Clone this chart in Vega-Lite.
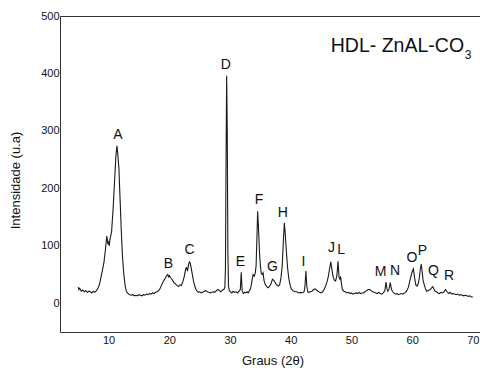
{
  "$schema": "https://vega.github.io/schema/vega-lite/v6.json",
  "width": 425,
  "height": 316,
  "autosize": {"type": "none"},
  "padding": {"left": 60, "top": 16, "right": 0, "bottom": 36},
  "background": "white",
  "config": {
    "view": {"stroke": "#333", "strokeWidth": 1},
    "font": "Liberation Sans",
    "axis": {"grid": false, "ticks": false, "domain": false, "labelFont": "Liberation Sans", "labelFontSize": 11, "labelColor": "#111", "titleFont": "Liberation Sans", "titleFontSize": 13, "titleFontWeight": "normal", "titleColor": "#111"}
  },
  "datasets": {
    "xrd": [
      {"t":5.0,"i":28},{"t":5.1,"i":24},{"t":5.25,"i":26},{"t":5.5,"i":21},{"t":5.75,"i":23},{"t":6.0,"i":20},{"t":6.25,"i":22},{"t":6.5,"i":19},{"t":6.75,"i":21},{"t":7.0,"i":20},{"t":7.25,"i":18},{"t":7.5,"i":21},{"t":7.75,"i":19},{"t":8.0,"i":22},{"t":8.25,"i":26},{"t":8.5,"i":33},{"t":8.75,"i":45},{"t":9.0,"i":58},{"t":9.25,"i":72},{"t":9.5,"i":95},{"t":9.7,"i":117},{"t":9.8,"i":110},{"t":9.9,"i":103},{"t":10.0,"i":106},{"t":10.1,"i":100},{"t":10.25,"i":112},{"t":10.5,"i":125},{"t":10.75,"i":165},{"t":11.0,"i":215},{"t":11.2,"i":255},{"t":11.37,"i":274},{"t":11.5,"i":262},{"t":11.7,"i":235},{"t":11.9,"i":180},{"t":12.1,"i":125},{"t":12.3,"i":80},{"t":12.5,"i":52},{"t":12.7,"i":33},{"t":12.9,"i":22},{"t":13.1,"i":18},{"t":13.3,"i":16},{"t":13.5,"i":15},{"t":13.75,"i":14},{"t":14.0,"i":15},{"t":14.25,"i":13},{"t":14.5,"i":14},{"t":14.75,"i":13},{"t":15.0,"i":15},{"t":15.25,"i":14},{"t":15.5,"i":13},{"t":15.75,"i":15},{"t":16.0,"i":14},{"t":16.25,"i":16},{"t":16.5,"i":15},{"t":16.75,"i":17},{"t":17.0,"i":16},{"t":17.25,"i":18},{"t":17.5,"i":17},{"t":17.75,"i":19},{"t":18.0,"i":20},{"t":18.25,"i":22},{"t":18.5,"i":26},{"t":18.75,"i":32},{"t":19.0,"i":38},{"t":19.25,"i":42},{"t":19.5,"i":47},{"t":19.75,"i":50},{"t":19.9,"i":46},{"t":20.0,"i":48},{"t":20.25,"i":44},{"t":20.5,"i":41},{"t":20.75,"i":36},{"t":21.0,"i":34},{"t":21.25,"i":31},{"t":21.5,"i":29},{"t":21.75,"i":32},{"t":22.0,"i":31},{"t":22.25,"i":38},{"t":22.5,"i":48},{"t":22.7,"i":60},{"t":22.85,"i":62},{"t":23.0,"i":56},{"t":23.15,"i":66},{"t":23.3,"i":72},{"t":23.45,"i":70},{"t":23.6,"i":62},{"t":23.8,"i":50},{"t":24.0,"i":38},{"t":24.2,"i":30},{"t":24.4,"i":24},{"t":24.6,"i":21},{"t":24.8,"i":19},{"t":25.0,"i":20},{"t":25.25,"i":18},{"t":25.5,"i":19},{"t":25.75,"i":21},{"t":26.0,"i":22},{"t":26.25,"i":20},{"t":26.5,"i":19},{"t":26.75,"i":18},{"t":27.0,"i":19},{"t":27.25,"i":20},{"t":27.5,"i":19},{"t":27.75,"i":22},{"t":28.0,"i":24},{"t":28.25,"i":22},{"t":28.5,"i":20},{"t":28.75,"i":23},{"t":29.0,"i":24},{"t":29.15,"i":28},{"t":29.25,"i":60},{"t":29.35,"i":250},{"t":29.45,"i":396},{"t":29.55,"i":300},{"t":29.65,"i":90},{"t":29.75,"i":30},{"t":29.9,"i":22},{"t":30.1,"i":20},{"t":30.3,"i":18},{"t":30.5,"i":21},{"t":30.75,"i":19},{"t":31.0,"i":20},{"t":31.25,"i":18},{"t":31.5,"i":21},{"t":31.7,"i":24},{"t":31.85,"i":54},{"t":32.0,"i":22},{"t":32.2,"i":17},{"t":32.4,"i":19},{"t":32.6,"i":18},{"t":32.8,"i":20},{"t":33.0,"i":18},{"t":33.2,"i":22},{"t":33.4,"i":26},{"t":33.6,"i":38},{"t":33.8,"i":50},{"t":34.0,"i":47},{"t":34.15,"i":52},{"t":34.3,"i":65},{"t":34.45,"i":120},{"t":34.55,"i":160},{"t":34.7,"i":130},{"t":34.85,"i":90},{"t":35.0,"i":65},{"t":35.15,"i":52},{"t":35.3,"i":50},{"t":35.45,"i":53},{"t":35.6,"i":40},{"t":35.8,"i":33},{"t":36.0,"i":30},{"t":36.25,"i":27},{"t":36.5,"i":29},{"t":36.75,"i":34},{"t":37.0,"i":42},{"t":37.2,"i":40},{"t":37.4,"i":37},{"t":37.6,"i":33},{"t":37.8,"i":31},{"t":38.0,"i":30},{"t":38.2,"i":33},{"t":38.4,"i":45},{"t":38.6,"i":65},{"t":38.8,"i":110},{"t":38.95,"i":140},{"t":39.1,"i":120},{"t":39.3,"i":88},{"t":39.5,"i":60},{"t":39.7,"i":42},{"t":39.9,"i":32},{"t":40.1,"i":25},{"t":40.4,"i":22},{"t":40.7,"i":20},{"t":41.0,"i":20},{"t":41.3,"i":18},{"t":41.6,"i":19},{"t":41.9,"i":18},{"t":42.2,"i":20},{"t":42.35,"i":30},{"t":42.5,"i":56},{"t":42.65,"i":30},{"t":42.8,"i":20},{"t":43.0,"i":19},{"t":43.25,"i":20},{"t":43.5,"i":21},{"t":43.75,"i":24},{"t":44.0,"i":25},{"t":44.25,"i":23},{"t":44.5,"i":21},{"t":44.75,"i":19},{"t":45.0,"i":18},{"t":45.25,"i":20},{"t":45.5,"i":24},{"t":45.75,"i":30},{"t":46.0,"i":38},{"t":46.2,"i":47},{"t":46.4,"i":60},{"t":46.6,"i":72},{"t":46.8,"i":58},{"t":47.0,"i":45},{"t":47.2,"i":40},{"t":47.4,"i":39},{"t":47.6,"i":48},{"t":47.8,"i":73},{"t":47.95,"i":45},{"t":48.1,"i":42},{"t":48.2,"i":47},{"t":48.35,"i":35},{"t":48.5,"i":24},{"t":48.75,"i":21},{"t":49.0,"i":20},{"t":49.25,"i":18},{"t":49.5,"i":19},{"t":49.75,"i":17},{"t":50.0,"i":18},{"t":50.25,"i":16},{"t":50.5,"i":17},{"t":50.75,"i":18},{"t":51.0,"i":17},{"t":51.25,"i":19},{"t":51.5,"i":17},{"t":51.75,"i":18},{"t":52.0,"i":18},{"t":52.25,"i":20},{"t":52.5,"i":22},{"t":52.75,"i":24},{"t":53.0,"i":24},{"t":53.25,"i":22},{"t":53.5,"i":20},{"t":53.75,"i":19},{"t":54.0,"i":18},{"t":54.25,"i":17},{"t":54.5,"i":19},{"t":54.75,"i":17},{"t":55.0,"i":16},{"t":55.25,"i":18},{"t":55.5,"i":22},{"t":55.7,"i":37},{"t":55.85,"i":25},{"t":56.0,"i":21},{"t":56.2,"i":25},{"t":56.4,"i":36},{"t":56.6,"i":24},{"t":56.8,"i":20},{"t":57.0,"i":18},{"t":57.25,"i":16},{"t":57.5,"i":17},{"t":57.75,"i":15},{"t":58.0,"i":16},{"t":58.25,"i":17},{"t":58.5,"i":16},{"t":58.75,"i":18},{"t":59.0,"i":20},{"t":59.2,"i":24},{"t":59.4,"i":28},{"t":59.6,"i":38},{"t":59.8,"i":47},{"t":60.0,"i":55},{"t":60.2,"i":60},{"t":60.4,"i":45},{"t":60.6,"i":32},{"t":60.8,"i":30},{"t":61.0,"i":34},{"t":61.2,"i":45},{"t":61.35,"i":60},{"t":61.5,"i":68},{"t":61.65,"i":55},{"t":61.8,"i":40},{"t":62.0,"i":32},{"t":62.2,"i":25},{"t":62.4,"i":21},{"t":62.6,"i":22},{"t":62.8,"i":23},{"t":63.0,"i":24},{"t":63.2,"i":27},{"t":63.4,"i":29},{"t":63.6,"i":25},{"t":63.8,"i":21},{"t":64.0,"i":20},{"t":64.25,"i":18},{"t":64.5,"i":17},{"t":64.75,"i":19},{"t":65.0,"i":18},{"t":65.25,"i":20},{"t":65.5,"i":24},{"t":65.75,"i":20},{"t":66.0,"i":17},{"t":66.25,"i":19},{"t":66.5,"i":16},{"t":66.75,"i":17},{"t":67.0,"i":16},{"t":67.25,"i":15},{"t":67.5,"i":16},{"t":67.75,"i":14},{"t":68.0,"i":15},{"t":68.25,"i":14},{"t":68.5,"i":13},{"t":68.75,"i":14},{"t":69.0,"i":13},{"t":69.25,"i":12},{"t":69.5,"i":13},{"t":69.75,"i":11},{"t":70.0,"i":11}
    ],
    "peaks": [
      {"t":11.54,"i":293,"lab":"A"},{"t":19.84,"i":68,"lab":"B"},{"t":23.35,"i":93,"lab":"C"},{"t":29.3,"i":415,"lab":"D"},{"t":31.7,"i":72,"lab":"E"},{"t":34.8,"i":179,"lab":"F"},{"t":37.0,"i":63,"lab":"G"},{"t":38.7,"i":157,"lab":"H"},{"t":42.1,"i":72,"lab":"I"},{"t":46.7,"i":97,"lab":"J"},{"t":48.3,"i":93,"lab":"L"},{"t":54.8,"i":55,"lab":"M"},{"t":57.2,"i":56,"lab":"N"},{"t":59.95,"i":79,"lab":"O"},{"t":61.7,"i":91,"lab":"P"},{"t":63.5,"i":57,"lab":"Q"},{"t":66.1,"i":47,"lab":"R"}
    ],
    "note": [{"t":68.55,"i":438,"txt":"HDL- ZnAL-CO"}],
    "sub": [{"t":68.65,"i":426,"txt":"3"}]
  },
  "layer": [
    {
      "data": {"name": "xrd"},
      "mark": {"type": "line", "color": "#1a1a1a", "strokeWidth": 1.1, "clip": true},
      "encoding": {
        "x": {"field": "t", "type": "quantitative", "scale": {"domain": [2, 72], "nice": false, "zero": false}, "axis": {"title": "Graus (2θ)", "values": [10, 20, 30, 40, 50, 60, 70], "labelPadding": 2, "titleY": 28, "titleBaseline": "middle"}},
        "y": {"field": "i", "type": "quantitative", "scale": {"domain": [-50, 500], "nice": false, "zero": false}, "axis": {"title": "Intensidade (u.a)", "values": [0, 100, 200, 300, 400, 500], "labelPadding": 1, "titleX": -45, "titleY": 164, "titleBaseline": "middle", "titleAlign": "center"}}
      }
    },
    {
      "data": {"name": "peaks"},
      "mark": {"type": "text", "fontSize": 14, "color": "#111", "baseline": "middle", "align": "center"},
      "encoding": {
        "x": {"field": "t", "type": "quantitative"},
        "y": {"field": "i", "type": "quantitative"},
        "text": {"field": "lab"}
      }
    },
    {
      "data": {"name": "note"},
      "mark": {"type": "text", "fontSize": 19.5, "color": "#111", "baseline": "alphabetic", "align": "right"},
      "encoding": {
        "x": {"field": "t", "type": "quantitative"},
        "y": {"field": "i", "type": "quantitative"},
        "text": {"field": "txt"}
      }
    },
    {
      "data": {"name": "sub"},
      "mark": {"type": "text", "fontSize": 12, "color": "#111", "baseline": "alphabetic", "align": "left"},
      "encoding": {
        "x": {"field": "t", "type": "quantitative"},
        "y": {"field": "i", "type": "quantitative"},
        "text": {"field": "txt"}
      }
    }
  ]
}
